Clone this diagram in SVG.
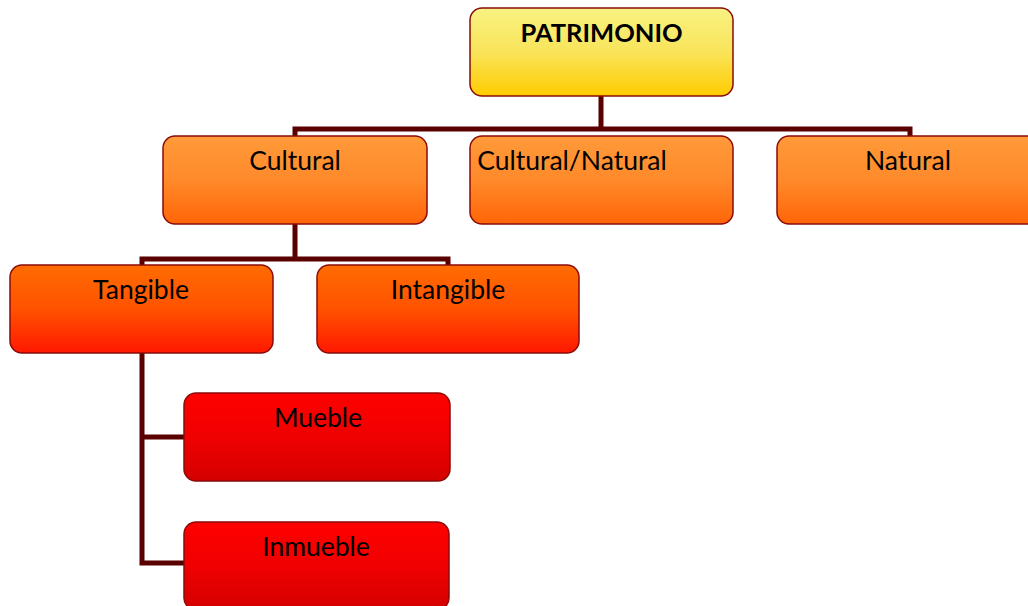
<svg xmlns="http://www.w3.org/2000/svg" width="1028" height="606" viewBox="0 0 1028 606">
<defs>
<linearGradient id="gY" x1="0" y1="0" x2="0" y2="1"><stop offset="0" stop-color="#F8F282"/><stop offset="0.5" stop-color="#F9E45A"/><stop offset="1" stop-color="#FFCC00"/></linearGradient>
<linearGradient id="gO" x1="0" y1="0" x2="0" y2="1"><stop offset="0" stop-color="#FF9A3A"/><stop offset="0.5" stop-color="#FF8A2A"/><stop offset="1" stop-color="#FF6508"/></linearGradient>
<linearGradient id="gR" x1="0" y1="0" x2="0" y2="1"><stop offset="0" stop-color="#FF6C00"/><stop offset="0.5" stop-color="#FF5200"/><stop offset="1" stop-color="#FF1800"/></linearGradient>
<linearGradient id="gD" x1="0" y1="0" x2="0" y2="1"><stop offset="0" stop-color="#FF0000"/><stop offset="0.5" stop-color="#F00000"/><stop offset="1" stop-color="#D40000"/></linearGradient>
<style>
.box{stroke:#8B0A0A;stroke-width:1.5}
.t{font-family:Lato,"Liberation Sans",sans-serif;font-size:26.5px;fill:#000;text-anchor:middle}
.b{font-weight:bold;font-size:25.5px}
.c{fill:none;stroke:#5A0000;stroke-width:5;stroke-linecap:butt;stroke-linejoin:miter}
</style>
</defs>
<g id="connectors">
<path class="c" d="M601 96 V129 M295 136 V129 H910 V136"/>
<path class="c" d="M295 224 V259 M142 265 V259 H448 V265"/>
<path class="c" d="M142 353 V563 H184 M142 437 H184"/>
</g>
<g id="patrimonio"><rect class="box" x="470" y="8" width="263" height="88" rx="12" fill="url(#gY)"/><text class="t b" x="601.5" y="42">PATRIMONIO</text></g>
<g id="cultural"><rect class="box" x="163" y="136" width="264" height="88" rx="12" fill="url(#gO)"/><text class="t" x="295" y="170">Cultural</text></g>
<g id="cultural-natural"><rect class="box" x="470" y="136" width="263" height="88" rx="12" fill="url(#gO)"/><text class="t" x="572" y="170">Cultural/Natural</text></g>
<g id="natural"><rect class="box" x="777" y="136" width="263" height="88" rx="12" fill="url(#gO)"/><text class="t" x="908" y="170">Natural</text></g>
<g id="tangible"><rect class="box" x="10" y="265" width="263" height="88" rx="12" fill="url(#gR)"/><text class="t" x="141" y="299">Tangible</text></g>
<g id="intangible"><rect class="box" x="317" y="265" width="262" height="88" rx="12" fill="url(#gR)"/><text class="t" x="448" y="299">Intangible</text></g>
<g id="mueble"><rect class="box" x="184" y="393" width="266" height="88" rx="12" fill="url(#gD)"/><text class="t" x="318" y="427">Mueble</text></g>
<g id="inmueble"><rect class="box" x="184" y="522" width="265" height="88" rx="12" fill="url(#gD)"/><text class="t" x="316" y="556">Inmueble</text></g>
</svg>
